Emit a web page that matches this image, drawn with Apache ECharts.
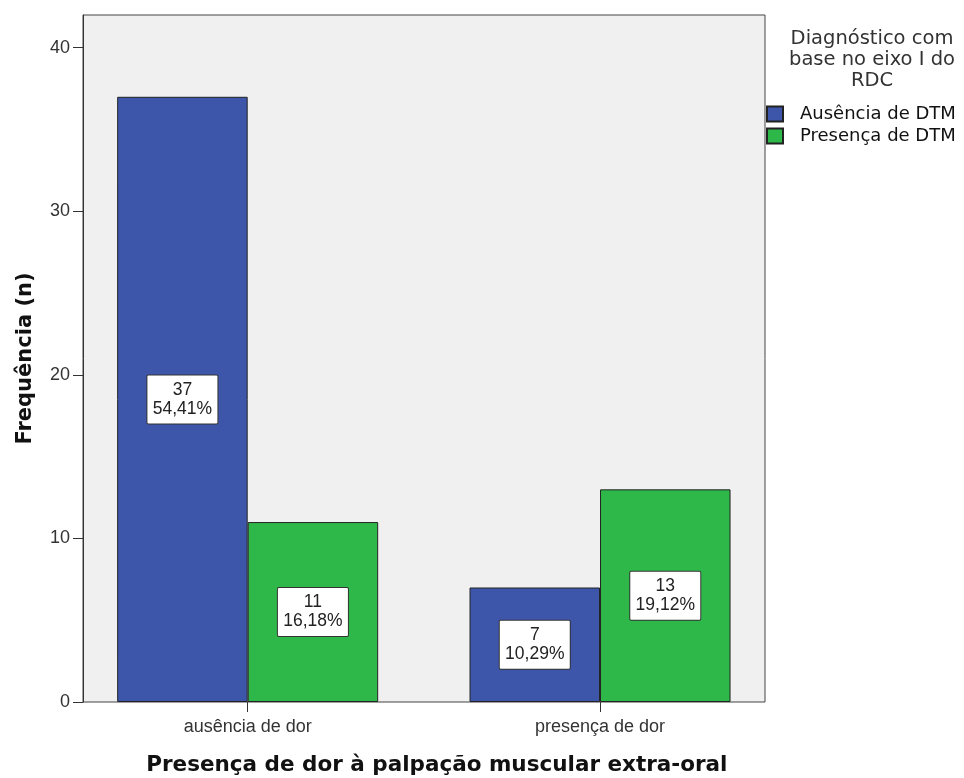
<!DOCTYPE html>
<html>
<head>
<meta charset="utf-8">
<script src="https://cdn.jsdelivr.net/npm/echarts@6/dist/echarts.min.js"></script>
<style>
html,body{margin:0;padding:0;background:#fff;}
#chart{width:964px;height:778px;}
</style>
</head>
<body>
<div id="chart"></div>
<script>
const categories = ['ausência de dor', 'presença de dor'];
const seriesNames = ['Ausência de DTM', 'Presença de DTM'];
const ausenciaDTM = [37, 7];
const presencaDTM = [11, 13];
const yTicks = [0, 10, 20, 30, 40];
const legendTitle = 'Diagnóstico com\nbase no eixo I do\nRDC';
const xTitle = 'Presença de dor à palpação muscular extra-oral';
const yTitle = 'Frequência (n)';

const total = ausenciaDTM.concat(presencaDTM).reduce((a, b) => a + b, 0);
function pct(v) { return (v / total * 100).toFixed(2).replace('.', ',') + '%'; }

const labelCfg = {
  show: true,
  position: 'inside',
  formatter: p => p.value + '\n' + pct(p.value),
  fontFamily: 'Liberation Sans, Arial, sans-serif',
  fontSize: 17.5,
  lineHeight: 19,
  color: '#222',
  backgroundColor: '#fff',
  borderColor: '#333',
  borderWidth: 1,
  borderRadius: 1,
  width: 60,
  align: 'center',
  padding: [5, 5]
};

const chart = echarts.init(document.getElementById('chart'));
chart.setOption({
  animation: false,
  backgroundColor: '#fff',
  grid: { left: 71.5, right: 187.8, top: 15, bottom: 76, outerBoundsMode: 'none', containLabel: false },
  graphic: [
    { type: 'rect', z: -10, shape: { x: 83, y: 15, width: 682, height: 687 },
      style: { fill: '#f0f0f0', stroke: '#444', lineWidth: 1 } },
    { type: 'text', x: 872, y: 28, style: { text: legendTitle, textAlign: 'center',
      fontFamily: 'DejaVu Sans', fontSize: 19.5, lineHeight: 21, fill: '#333' } }
  ],
  legend: {
    orient: 'vertical', left: 761, top: 100, itemWidth: 16, itemHeight: 15, itemGap: 4,
    icon: 'rect', data: seriesNames,
    textStyle: { fontFamily: 'DejaVu Sans', fontSize: 18, color: '#111', padding: [0, 0, 0, 12] }
  },
  xAxis: {
    type: 'category', data: categories,
    axisLine: { show: false },
    axisTick: { show: true, alignWithLabel: true, length: 10, lineStyle: { color: '#333' } },
    axisLabel: { margin: 16, fontFamily: 'Liberation Sans, Arial, sans-serif', fontSize: 18, color: '#333' },
    name: xTitle, nameLocation: 'middle', nameGap: 52,
    nameTextStyle: { fontFamily: 'DejaVu Sans', fontWeight: 'bold', fontSize: 21.5, color: '#111', padding: [0, 0, 0, 26] }
  },
  yAxis: {
    type: 'value', min: 0, max: 42, interval: 10, offset: -11.5,
    axisLine: { show: true, lineStyle: { color: '#333' } },
    axisTick: { show: true, length: 10, customValues: yTicks, lineStyle: { color: '#333' } },
    axisLabel: { margin: 13, customValues: yTicks, fontFamily: 'Liberation Sans, Arial, sans-serif', fontSize: 18, color: '#333' },
    splitLine: { show: false },
    name: yTitle, nameLocation: 'middle', nameGap: 47,
    nameTextStyle: { fontFamily: 'DejaVu Sans', fontWeight: 'bold', fontSize: 21, color: '#111' }
  },
  series: [
    { name: seriesNames[0], type: 'bar', data: ausenciaDTM, barWidth: 130.5, barGap: '0%',
      itemStyle: { color: '#3d56aa', borderColor: '#222', borderWidth: 1 }, label: labelCfg },
    { name: seriesNames[1], type: 'bar', data: presencaDTM, barWidth: 130.5, barGap: '0%',
      itemStyle: { color: '#2fb84a', borderColor: '#222', borderWidth: 1 }, label: labelCfg }
  ]
});
</script>
</body>
</html>
